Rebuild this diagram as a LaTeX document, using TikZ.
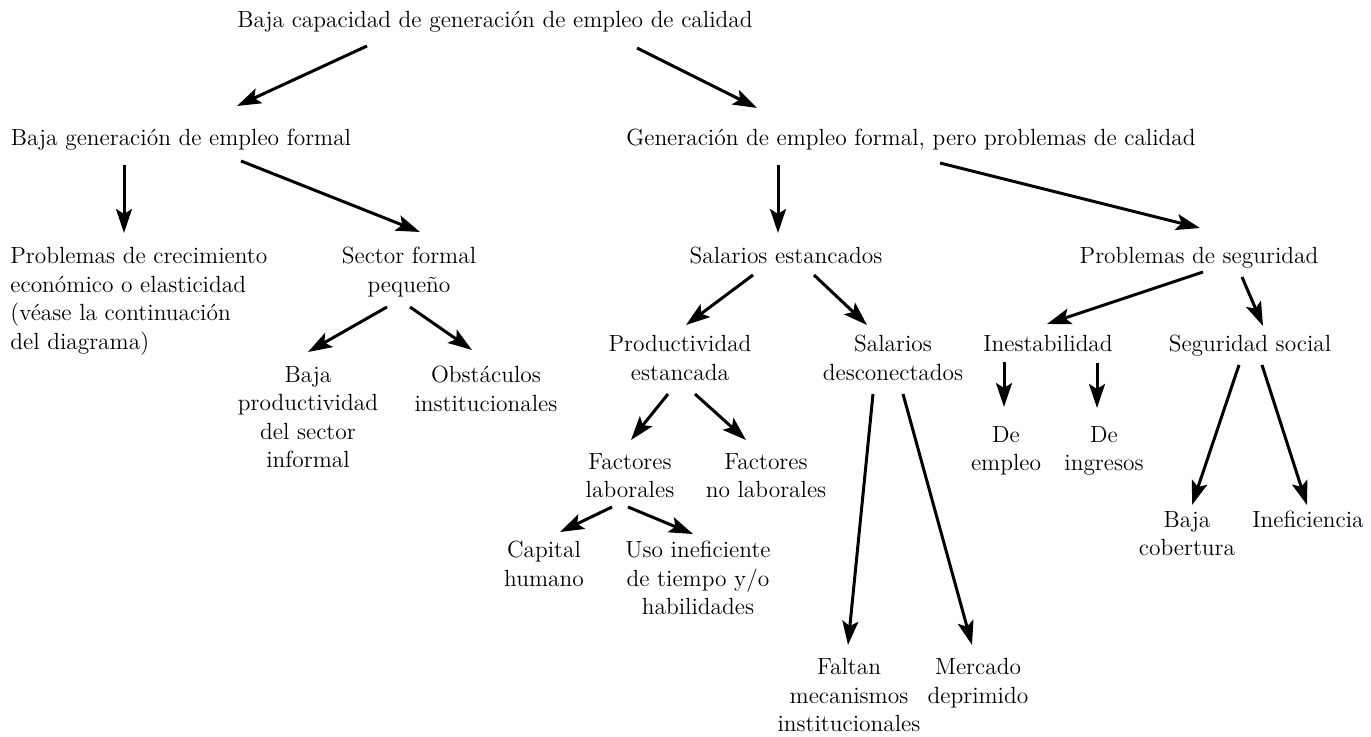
\documentclass[tikz,border=0pt]{standalone}
\usepackage{fontspec}
\usepackage{tikz}
\usetikzlibrary{arrows.meta,positioning}

\tikzset{
    lbl/.style={inner sep=0pt, align=center, anchor=north, font=\fontsize{11.7}{14.25}\selectfont},
    arr/.style={line width=1.5pt, -{Stealth[length=12pt,width=8pt,inset=2.5pt]}}
}

\begin{document}
\begin{tikzpicture}[x=0.5pt, y=-0.5pt]
    \useasboundingbox (0,0) rectangle (1371,737);

    % Top level
    \node[lbl] (title) at (495,11) {Baja capacidad de generación de empleo de calidad};

    \node[lbl] (bgen) at (181,129) {Baja generación de empleo formal};
    \node[lbl] (gen) at (911,129) {Generación de empleo formal, pero problemas de calidad};

    % Left branch
    \node[lbl, align=left, anchor=north west] (probc) at (10,247) {
        Problemas de crecimiento\\
        económico o elasticidad\\
        (véase la continuación\\
        del diagrama)
    };
    \node[lbl] (sector) at (409,247) {Sector formal\\ pequeño};
    \node[lbl] (bajap) at (308,366) {Baja\\ productividad\\ del sector\\ informal};
    \node[lbl] (obst) at (486,366) {Obstáculos\\ institucionales};

    % Right branch
    \node[lbl] (salest) at (786,247) {Salarios estancados};
    \node[lbl] (probseg) at (1199,247) {Problemas de seguridad};

    \node[lbl] (prodest) at (680,335) {Productividad\\ estancada};
    \node[lbl] (saldes) at (893,335) {Salarios\\ desconectados};
    \node[lbl] (inest) at (1048,335) {Inestabilidad};
    \node[lbl] (segsoc) at (1250,335) {Seguridad social};

    \node[lbl] (factl) at (630,453) {Factores\\ laborales};
    \node[lbl] (factnl) at (766,453) {Factores\\ no laborales};
    \node[lbl] (deemp) at (1006,426) {De\\ empleo};
    \node[lbl] (deing) at (1104,426) {De\\ ingresos};
    \node[lbl] (bajacob) at (1187,511) {Baja\\ cobertura};
    \node[lbl] (inef) at (1308,511) {Ineficiencia};

    \node[lbl] (caphum) at (544,541) {Capital\\ humano};
    \node[lbl] (usoinef) at (698,541) {Uso ineficiente\\ de tiempo y/o\\ habilidades};

    \node[lbl] (faltan) at (849,658) {Faltan\\ mecanismos\\ institucionales};
    \node[lbl] (mercado) at (978,658) {Mercado\\ deprimido};

    % Arrows
    \draw[arr] ([shift={(-128,35)}]title.north) -- ([shift={(56,-23)}]bgen.north);
    \draw[arr] ([shift={(142,37)}]title.north) -- ([shift={(-154,-21)}]gen.north);

    \draw[arr] ([shift={(-57,36)}]bgen.north) -- ([shift={(114,-14)}]probc.north west);
    \draw[arr] ([shift={(60,32)}]bgen.north) -- ([shift={(11,-15)}]sector.north);
    \draw[arr] ([shift={(-133,36)}]gen.north) -- ([shift={(-8,-14)}]salest.north);
    \draw[arr] ([shift={(29,34)}]gen.north) -- ([shift={(1,-19)}]probseg.north);

    \draw[arr] ([shift={(-22,60)}]sector.north) -- ([shift={(0,-14)}]bajap.north);
    \draw[arr] ([shift={(1,60)}]sector.north) -- ([shift={(-14,-16)}]obst.north);

    \draw[arr] ([shift={(-33,28)}]salest.north) -- ([shift={(6,-10)}]prodest.north);
    \draw[arr] ([shift={(28,28)}]salest.north) -- ([shift={(-26,-10)}]saldes.north);
    \draw[arr] ([shift={(-12,59)}]prodest.north) -- ([shift={(1,-13)}]factl.north);
    \draw[arr] ([shift={(15,59)}]prodest.north) -- ([shift={(-20,-13)}]factnl.north);
    \draw[arr] ([shift={(-18,54)}]factl.north) -- ([shift={(16,-9)}]caphum.north);
    \draw[arr] ([shift={(-2,54)}]factl.north) -- ([shift={(-5,-7)}]usoinef.north);
    \draw[arr] ([shift={(-20,59)}]saldes.north) -- ([shift={(-1,-13)}]faltan.north);
    \draw[arr] ([shift={(10,59)}]saldes.north) -- ([shift={(-6,-13)}]mercado.north);

    \draw[arr] ([shift={(4,25)}]probseg.north) -- ([shift={(-1,-11)}]inest.north);
    \draw[arr] ([shift={(43,30)}]probseg.north) -- ([shift={(13,-9)}]segsoc.north);
    \draw[arr] ([shift={(-44,27)}]inest.north) -- ([shift={(-2,-19)}]deemp.north);
    \draw[arr] ([shift={(49,28)}]inest.north) -- ([shift={(-7,-18)}]deing.north);
    \draw[arr] ([shift={(-11,30)}]segsoc.north) -- ([shift={(5,-6)}]bajacob.north);
    \draw[arr] ([shift={(12,30)}]segsoc.north) -- ([shift={(-1,-6)}]inef.north);

\end{tikzpicture}
\end{document}
